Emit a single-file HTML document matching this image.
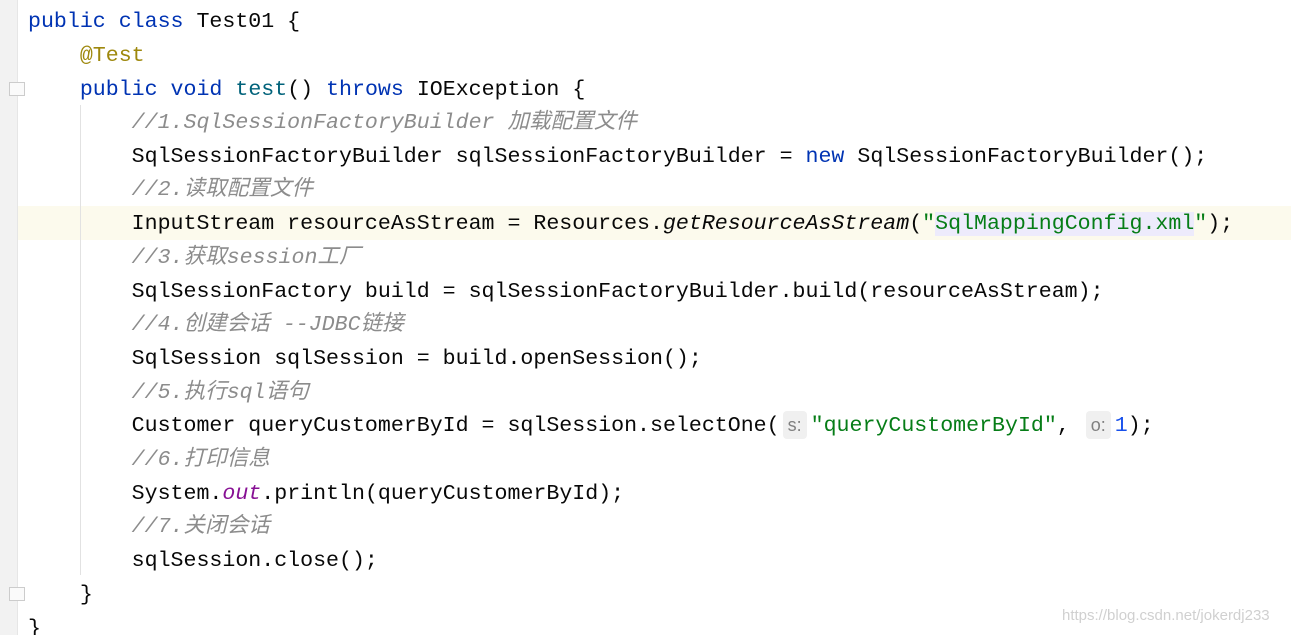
<!DOCTYPE html>
<html><head><meta charset="utf-8"><style>
html,body{margin:0;padding:0;background:#fff;width:1291px;height:635px;overflow:hidden;position:relative}
.gut{position:absolute;left:0;top:0;width:17px;height:635px;background:#f2f2f2;border-right:1px solid #e6e6e6}
.hl{position:absolute;left:18px;top:206px;width:1273px;height:34px;background:#fcfaed}
.ln{position:absolute;left:28px;height:34px;line-height:34px;white-space:pre;font-family:"Liberation Mono","Noto Sans CJK SC",monospace;font-size:21.6px;color:#080808;top:1px}
.k{color:#0033b3}.a{color:#9e880d}.f{color:#00627a}
.c{color:#8c8c8c;font-style:italic;font-family:"Liberation Mono","Noto Sans CJK SC",monospace}
.s{color:#067d17}.n{color:#1750eb}.i{font-style:italic}.o{color:#871094;font-style:italic}
.sel{background:#edebfc}
.h{display:inline-block;background:#f0f0f0;color:#808080;font-size:18px;line-height:28px;height:28px;border-radius:4px;padding:0 5px;margin:0 4px 0 3px;vertical-align:middle;font-family:"Liberation Sans",sans-serif}
.guide{position:absolute;left:80px;width:1px;background:#e2e2e2}
.fold{position:absolute;left:9px;width:14px;height:12px;border:1px solid #ccc;background:#fafafa}
.wm{position:absolute;left:1062px;top:607px;font-family:"Liberation Sans",sans-serif;font-size:15px;color:#d0d0d0}
</style></head><body>
<div class="gut"></div>
<div class="hl"></div>
<div class="guide" style="top:105px;height:470px"></div>
<div class="fold" style="top:82px"></div>
<div class="fold" style="top:587px"></div>
<div class="ln" style="top:5px"><span class="k">public class</span> Test01 {</div>
<div class="ln" style="top:39px">    <span class="a">@Test</span></div>
<div class="ln" style="top:73px">    <span class="k">public void</span> <span class="f">test</span>() <span class="k">throws</span> IOException {</div>
<div class="ln" style="top:106px">        <span class="c">//1.SqlSessionFactoryBuilder 加载配置文件</span></div>
<div class="ln" style="top:140px">        SqlSessionFactoryBuilder sqlSessionFactoryBuilder = <span class="k">new</span> SqlSessionFactoryBuilder();</div>
<div class="ln" style="top:173px">        <span class="c">//2.读取配置文件</span></div>
<div class="ln" style="top:207px">        InputStream resourceAsStream = Resources.<span class="i">getResourceAsStream</span>(<span class="s">"<span class="sel">SqlMappingConfig.xml</span>"</span>);</div>
<div class="ln" style="top:241px">        <span class="c">//3.获取session工厂</span></div>
<div class="ln" style="top:275px">        SqlSessionFactory build = sqlSessionFactoryBuilder.build(resourceAsStream);</div>
<div class="ln" style="top:308px">        <span class="c">//4.创建会话 --JDBC链接</span></div>
<div class="ln" style="top:342px">        SqlSession sqlSession = build.openSession();</div>
<div class="ln" style="top:376px">        <span class="c">//5.执行sql语句</span></div>
<div class="ln" style="top:409px">        Customer queryCustomerById = sqlSession.selectOne(<span class="h">s:</span><span class="s">"queryCustomerById"</span>, <span class="h">o:</span><span class="n">1</span>);</div>
<div class="ln" style="top:443px">        <span class="c">//6.打印信息</span></div>
<div class="ln" style="top:477px">        System.<span class="o">out</span>.println(queryCustomerById);</div>
<div class="ln" style="top:510px">        <span class="c">//7.关闭会话</span></div>
<div class="ln" style="top:544px">        sqlSession.close();</div>
<div class="ln" style="top:578px">    }</div>
<div class="ln" style="top:612px">}</div>
<div class="wm">https://blog.csdn.net/jokerdj233</div>
</body></html>
